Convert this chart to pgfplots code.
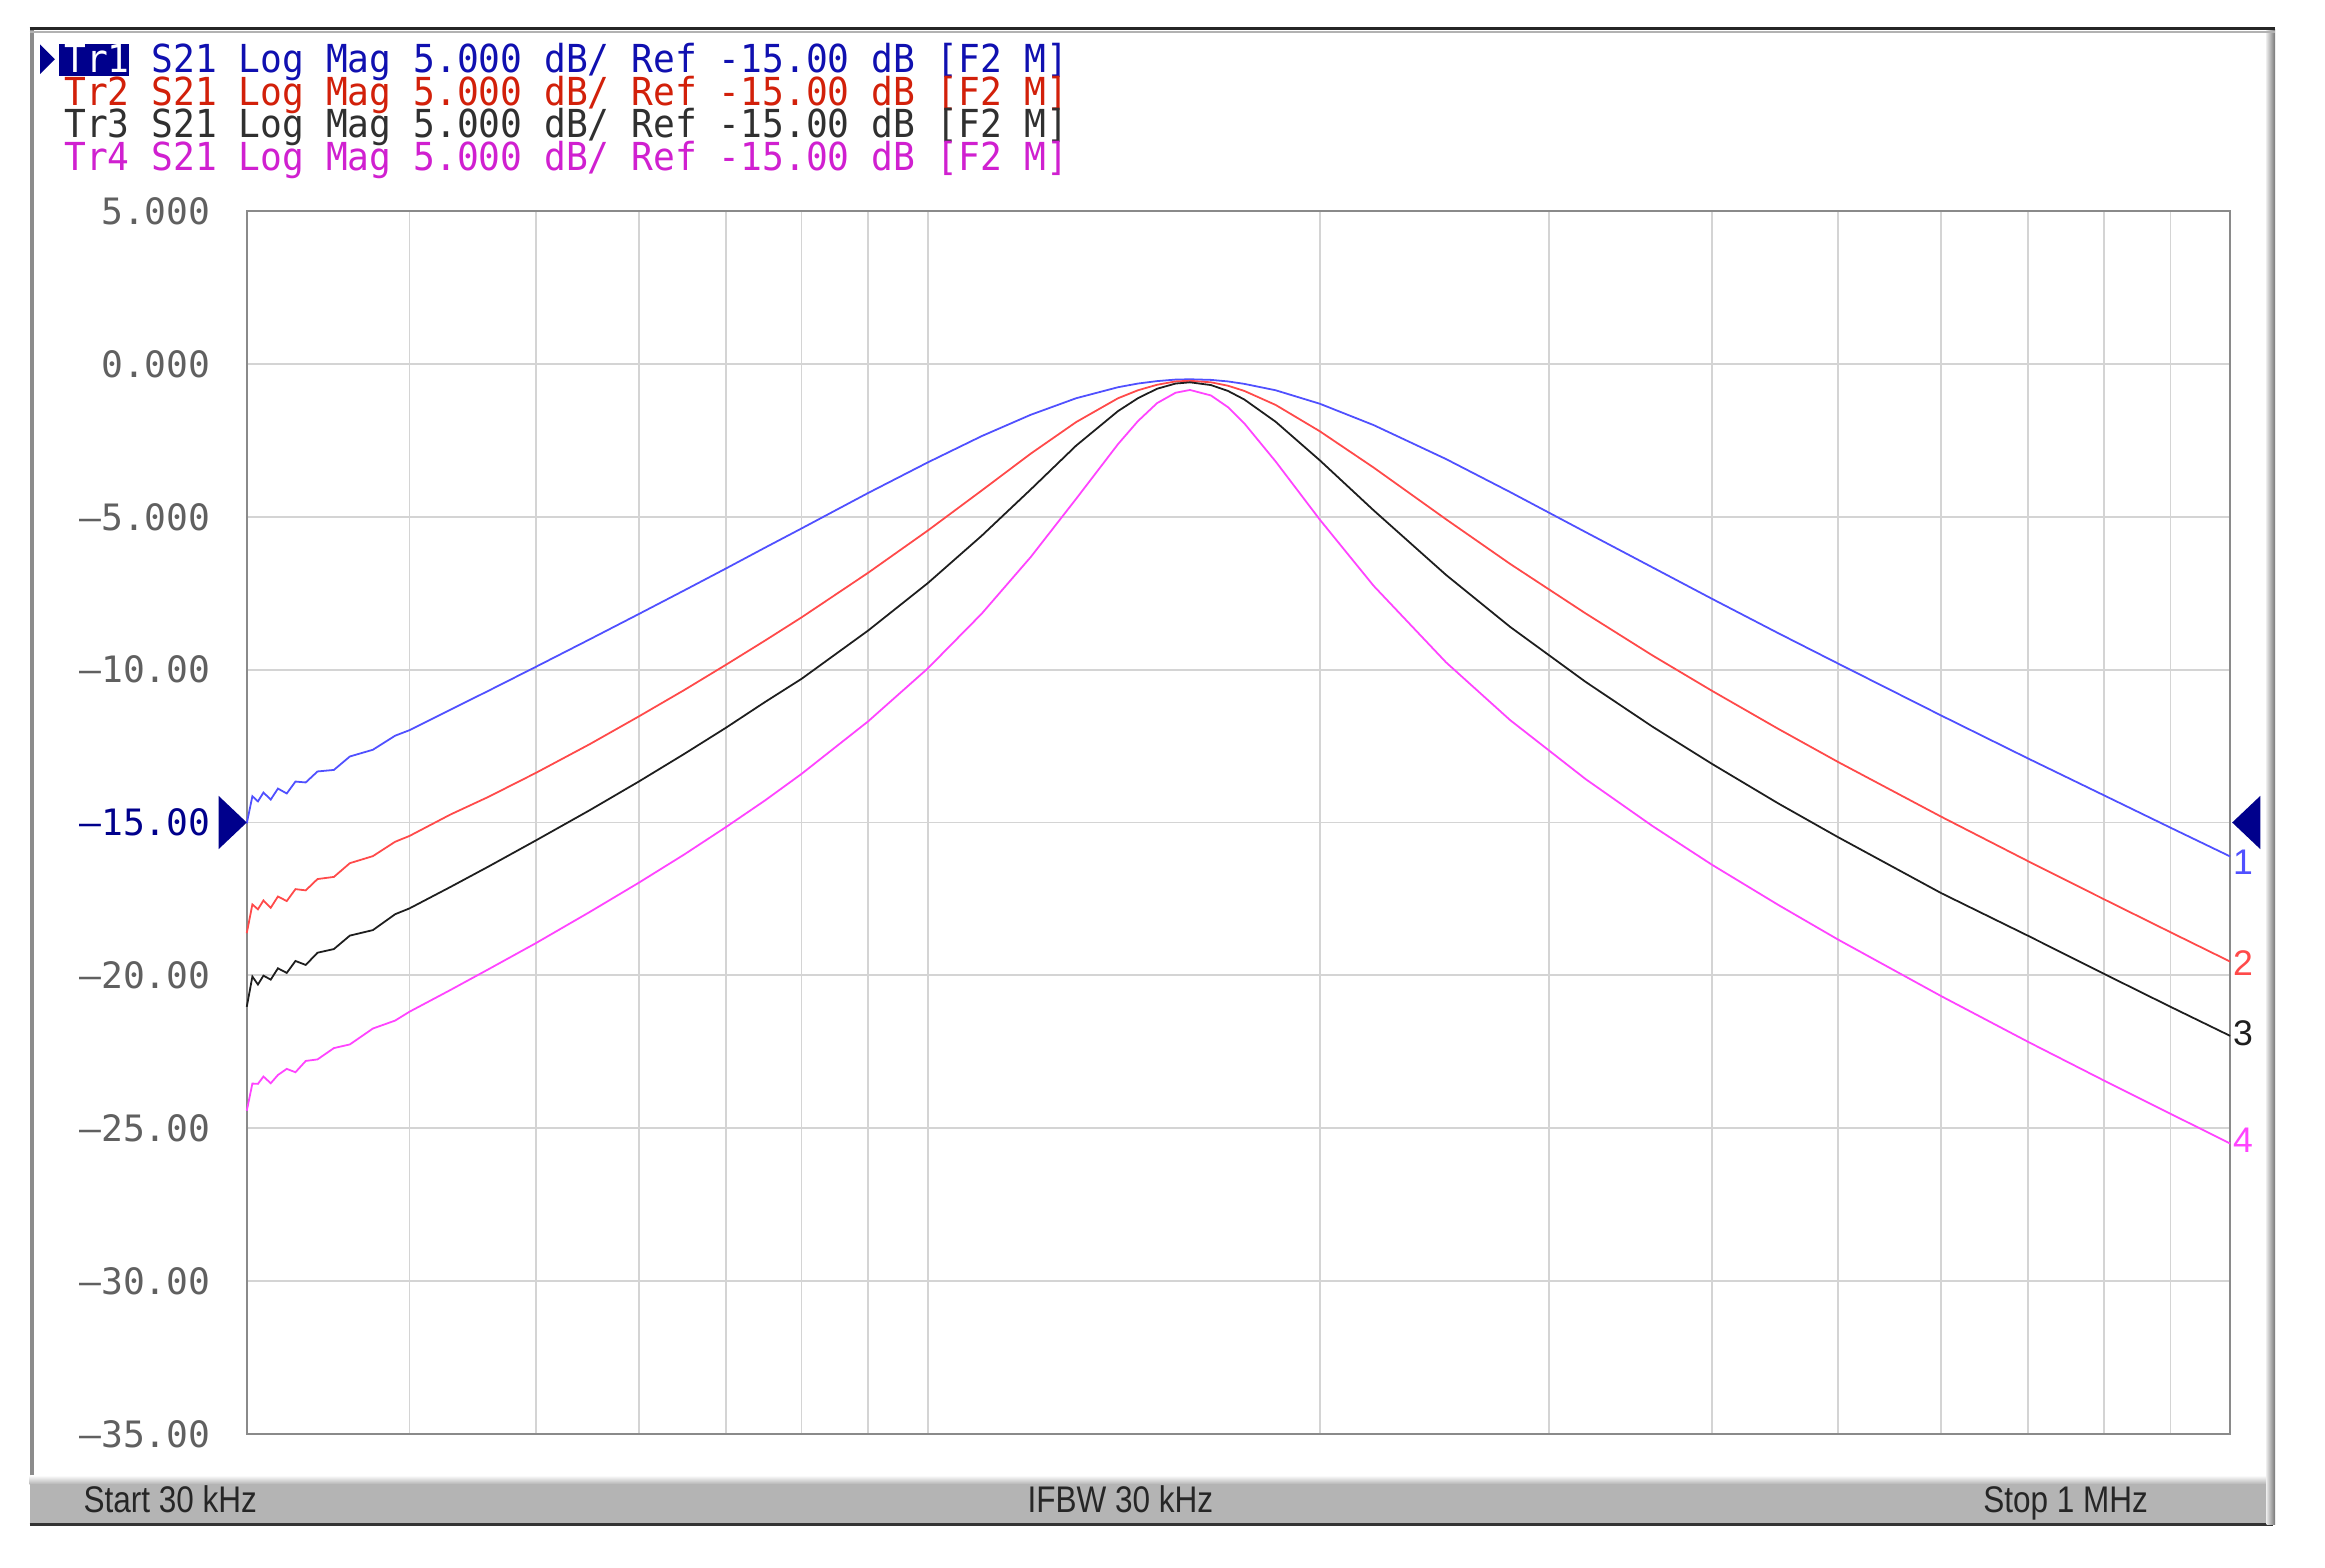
\documentclass[border=0pt]{standalone}
\usepackage{pgfplots}
\pgfplotsset{compat=1.18}
\usepackage{fontspec}
\setmainfont{Liberation Sans}
\newfontfamily\hdrfont[FakeStretch=0.94]{DejaVu Sans Mono}
\newfontfamily\tickfont{DejaVu Sans Mono}
\newfontfamily\barfont[FakeStretch=0.85]{Liberation Sans}
\definecolor{trA}{HTML}{5050FF}
\definecolor{trB}{HTML}{FF4A4A}
\definecolor{trC}{HTML}{1E1E1E}
\definecolor{trD}{HTML}{FF44FF}
\definecolor{hdrA}{HTML}{1010B0}
\definecolor{hdrB}{HTML}{D2200A}
\definecolor{hdrC}{HTML}{303030}
\definecolor{hdrD}{HTML}{D020D0}
\definecolor{navy}{HTML}{00008C}
\definecolor{gridgray}{HTML}{D4D4D4}
\definecolor{axisgray}{HTML}{8A8A8A}
\definecolor{tickgray}{HTML}{606060}
\definecolor{bargray}{HTML}{B4B4B4}

\pgfplotstableread{
f dB
30 -15.03
30.3 -14.14
30.6 -14.31
30.9 -14.02
31.3 -14.25
31.7 -13.89
32.2 -14.05
32.7 -13.66
33.3 -13.69
34 -13.33
35 -13.28
36 -12.84
37.5 -12.62
39 -12.16
40 -11.98
43 -11.31
46 -10.69
50 -9.91
55 -9.01
60 -8.18
65 -7.41
70 -6.69
75 -6.01
80 -5.38
90 -4.22
100 -3.22
110 -2.36
120 -1.66
130 -1.12
140 -0.76
145 -0.64
150 -0.56
155 -0.51
159 -0.50
165 -0.52
170 -0.57
175 -0.65
185 -0.86
200 -1.30
220 -2.00
250 -3.11
280 -4.19
320 -5.50
360 -6.65
400 -7.68
450 -8.81
500 -9.80
600 -11.50
700 -12.91
800 -14.11
900 -15.17
1000 -16.11
}\trone

\pgfplotstableread{
f dB
30 -18.62
30.3 -17.68
30.6 -17.84
30.9 -17.55
31.3 -17.79
31.7 -17.42
32.2 -17.57
32.7 -17.18
33.3 -17.22
34 -16.85
35 -16.78
36 -16.33
37.5 -16.10
39 -15.63
40 -15.44
43 -14.74
46 -14.16
50 -13.38
55 -12.44
60 -11.53
65 -10.67
70 -9.84
75 -9.05
80 -8.29
90 -6.83
100 -5.45
110 -4.14
120 -2.93
130 -1.90
140 -1.12
145 -0.86
150 -0.68
155 -0.57
159 -0.55
165 -0.60
170 -0.71
175 -0.88
185 -1.34
200 -2.20
220 -3.39
250 -5.08
280 -6.54
320 -8.16
360 -9.53
400 -10.69
450 -11.94
500 -13.02
600 -14.81
700 -16.27
800 -17.51
900 -18.59
1000 -19.55
}\trtwo

\pgfplotstableread{
f dB
30 -21.03
30.3 -20.04
30.6 -20.30
30.9 -20.01
31.3 -20.14
31.7 -19.77
32.2 -19.92
32.7 -19.53
33.3 -19.66
34 -19.26
35 -19.14
36 -18.70
37.5 -18.52
39 -18.00
40 -17.81
43 -17.11
46 -16.44
50 -15.59
55 -14.60
60 -13.66
65 -12.76
70 -11.90
75 -11.06
80 -10.30
90 -8.72
100 -7.17
110 -5.62
120 -4.10
130 -2.67
140 -1.54
145 -1.12
150 -0.81
155 -0.64
159 -0.60
165 -0.69
170 -0.88
175 -1.16
185 -1.89
200 -3.15
220 -4.79
250 -6.90
280 -8.60
320 -10.40
360 -11.86
400 -13.08
450 -14.38
500 -15.48
600 -17.31
700 -18.71
800 -19.95
900 -21.03
1000 -21.98
}\trthree

\pgfplotstableread{
f dB
30 -24.43
30.3 -23.54
30.6 -23.55
30.9 -23.31
31.3 -23.53
31.7 -23.26
32.2 -23.06
32.7 -23.17
33.3 -22.80
34 -22.75
35 -22.38
36 -22.26
37.5 -21.74
39 -21.48
40 -21.19
43 -20.48
46 -19.80
50 -18.95
55 -17.93
60 -16.97
65 -16.05
70 -15.15
75 -14.28
80 -13.41
90 -11.69
100 -9.96
110 -8.17
120 -6.31
130 -4.41
140 -2.62
145 -1.87
150 -1.28
155 -0.94
159 -0.85
165 -1.03
170 -1.41
175 -1.94
185 -3.19
200 -5.09
220 -7.26
250 -9.76
280 -11.65
320 -13.58
360 -15.11
400 -16.38
450 -17.70
500 -18.83
600 -20.68
700 -22.18
800 -23.44
900 -24.53
1000 -25.50
}\trfour

\begin{document}
\begin{tikzpicture}
\useasboundingbox (0,0) rectangle (784pt,528.5pt);
\fill[white] (0,0) rectangle (784pt,528.5pt);

% instrument frame
\shade[top color=white, bottom color=bargray] (10pt,31pt) rectangle (766.5pt,28pt);
\fill[bargray] (10pt,28pt) rectangle (766.5pt,14.5pt);
\draw[black!80, line width=1.1pt] (10pt,14.5pt) -- (766.5pt,14.5pt);
\draw[color=black!45, line width=1.6pt] (10.8pt,31pt) -- (10.8pt,518.5pt);
\shade[left color=black!10, right color=black!55] (764.3pt,14.5pt) rectangle (767.2pt,518.5pt);
\draw[black!85, line width=1.1pt] (10pt,518.8pt) -- (767.2pt,518.8pt);
\draw[black!30, line width=0.8pt] (10pt,517.7pt) -- (767.2pt,517.7pt);

% header
\fill[navy] (13.5pt,513.5pt) -- (18.5pt,508.5pt) -- (13.5pt,503.5pt) -- cycle;
\fill[navy] (20pt,503pt) rectangle (43.5pt,513.8pt);
\begin{scope}[every node/.style={anchor=base west, inner sep=0pt, font=\hdrfont\fontsize{13}{15}\selectfont}]
\node at (21.5pt,504pt) {{\color{white}Tr1} {\color{hdrA}S21 Log Mag 5.000 dB/ Ref -15.00 dB [F2 M]}};
\node[text=hdrB] at (21.5pt,493pt) {Tr2 S21 Log Mag 5.000 dB/ Ref -15.00 dB [F2 M]};
\node[text=hdrC] at (21.5pt,482pt) {Tr3 S21 Log Mag 5.000 dB/ Ref -15.00 dB [F2 M]};
\node[text=hdrD] at (21.5pt,471pt) {Tr4 S21 Log Mag 5.000 dB/ Ref -15.00 dB [F2 M]};
\end{scope}

% status bar
\begin{scope}[every node/.style={inner sep=0pt, font=\barfont\fontsize{12.5}{14}\selectfont, text=black!85}]
\node[anchor=base west] at (28pt,18.6pt) {Start 30 kHz};
\node[anchor=base] at (377.8pt,18.6pt) {IFBW 30 kHz};
\node[anchor=base east] at (724.5pt,18.6pt) {Stop 1 MHz};
\end{scope}

\begin{axis}[
  at={(83.2pt,45pt)}, anchor=south west,
  scale only axis, width=668.8pt, height=412.3pt,
  xmode=log, xmin=30, xmax=1000,
  ymin=-35, ymax=5,
  xtick={40,50,60,70,80,90,100,200,300,400,500,600,700,800,900},
  xticklabels={},
  minor xtick={},
  ytick={-35,-30,-25,-20,-15,-10,-5,0,5},
  yticklabels={–35.00,–30.00,–25.00,–20.00,{\color{navy}–15.00},–10.00,–5.000,0.000,5.000},
  grid=major,
  major grid style={color=gridgray, line width=0.6pt},
  major tick length=0pt,
  tick style={draw=none},
  axis line style={color=axisgray, line width=0.8pt},
  yticklabel style={font=\tickfont\fontsize{12.25}{14}\selectfont, text=tickgray, anchor=east, inner sep=0pt, xshift=-12pt},
  clip=false,
]
\addplot[trA, line width=0.6pt] table[x=f, y=dB] {\trone};
\addplot[trB, line width=0.6pt] table[x=f, y=dB] {\trtwo};
\addplot[trC, line width=0.6pt] table[x=f, y=dB] {\trthree};
\addplot[trD, line width=0.6pt] table[x=f, y=dB] {\trfour};
\coordinate (refL) at (axis cs:30,-15);
\coordinate (refR) at (axis cs:1000,-15);
\begin{scope}[every node/.style={anchor=west, inner sep=0pt, xshift=0.8pt, font=\fontsize{12}{14}\selectfont}]
\node[text=trA] at (axis cs:1000,-16.3) {1};
\node[text=trB] at (axis cs:1000,-19.6) {2};
\node[text=trC] at (axis cs:1000,-21.9) {3};
\node[text=trD] at (axis cs:1000,-25.4) {4};
\end{scope}
\end{axis}
\fill[navy] (refL) -- ([shift={(-9.5pt,9pt)}]refL) -- ([shift={(-9.5pt,-9pt)}]refL) -- cycle;
\fill[navy] ([xshift=0.7pt]refR) -- ([shift={(10.2pt,9pt)}]refR) -- ([shift={(10.2pt,-9pt)}]refR) -- cycle;
\end{tikzpicture}
\end{document}
